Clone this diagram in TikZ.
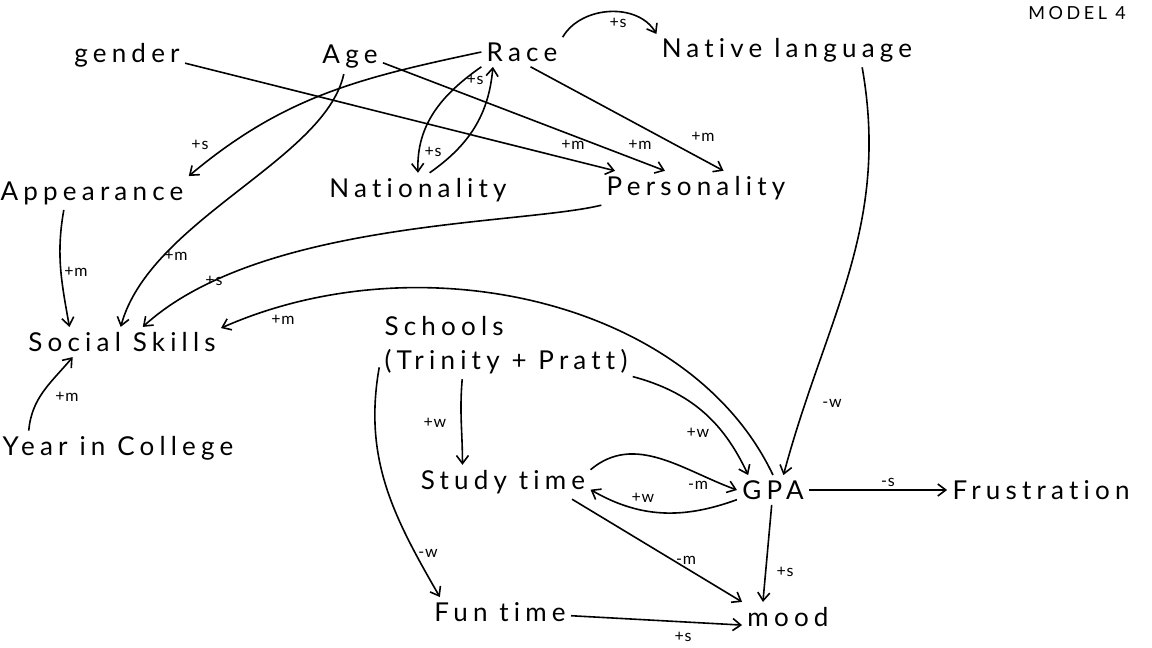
\documentclass[tikz,border=0pt]{standalone}
\usepackage{fontspec}
\setmainfont{Lato}[LetterSpace=20, Ligatures=NoCommon]
\newfontfamily\lblfont{Lato}[LetterSpace=5, Ligatures=NoCommon]
\usetikzlibrary{arrows.meta}

\begin{document}
\begin{tikzpicture}[x=0.5pt, y=-0.5pt,
  varnode/.style={inner sep=2.5pt, font=\fontsize{13}{17}\selectfont, align=left},
  lbl/.style={inner sep=0pt, font=\lblfont\fontsize{8}{9}\selectfont},
  arr/.style={-{Straight Barb[length=4pt, width=6pt]}, line width=0.8pt}
]
  \useasboundingbox (0,0) rectangle (1152,648);

  \node[varnode] (gender) at (127,55) {gender};
  \node[varnode] (age) at (350,57) {Age};
  \node[varnode] (race) at (522,52) {Race};
  \node[varnode] (natlang) at (787,50) {Native language};
  \node[varnode, font=\fontsize{9}{11}\selectfont] (model) at (1077,13) {MODEL 4};
  \node[varnode] (appear) at (92,193) {Appearance};
  \node[varnode] (nation) at (418,190) {Nationality};
  \node[varnode] (person) at (696,188) {Personality};
  \node[varnode] (social) at (122,342) {Social Skills};
  \node[varnode] (schools) at (506,345) {Schools\\(Trinity + Pratt)};
  \node[varnode] (year) at (118,448) {Year in College};
  \node[varnode] (study) at (503,482) {Study time};
  \node[varnode] (gpa) at (773,490) {GPA};
  \node[varnode] (frust) at (1041,490) {Frustration};
  \node[varnode] (fun) at (500,612) {Fun time};
  \node[varnode] (mood) at (788,617) {mood};

  \draw[arr] (gender.-8) -- (person.168);
  \draw[arr] (age.-10) -- (person.151);
  \draw[arr] (race.-60) -- (person.32);
  \draw[arr] (race.west) to[out=192, in=40] (appear.north east);
  \draw[arr] (race.south west) to[out=215, in=92] (nation.north);
  \draw[arr] (nation.56) to[out=35, in=-95] (race.207);
  \draw[arr] (race.north east) to[out=60, in=120] (natlang.173);
  \draw[arr] (natlang.-13) to[out=-80, in=75] (gpa.55);
  \draw[arr] (age.-110) .. controls (325,160) and (150,220) .. (social.95);
  \draw[arr] (person.south west) .. controls (520,225) and (260,220) .. (social.36);
  \draw[arr] (gpa.north) .. controls (690,300) and (420,240) .. (social.8);
  \draw[arr] (appear.211) to[out=260, in=100] (social.164);
  \draw[arr] (year.169) to[out=85, in=230] (social.197);
  \draw[arr] (schools.-14) to[out=-15, in=115] (gpa.149);
  \draw[arr] (schools.218) to[out=-95, in=90] (study.157);
  \draw[arr] (schools.190) to[out=260, in=120] (fun.166);
  \draw[arr] (study.8) to[out=40, in=160] (gpa.west);
  \draw[arr] (gpa.195) to[out=200, in=-30] (study.-5);
  \draw[arr] (study.-14) -- (mood.north west);
  \draw[arr] (gpa.-95) -- (mood.149);
  \draw[arr] (fun.-3) -- (mood.190);
  \draw[arr] (gpa.east) -- (frust.west);

  \node[lbl] (l-gp) at (573,145) {+m};
  \node[lbl] (l-ap) at (640,145) {+m};
  \node[lbl] (l-rp) at (703,137) {+m};
  \node[lbl] (l-ra) at (200,145) {+s};
  \node[lbl] (l-as) at (176,256) {+m};
  \node[lbl] (l-ps) at (214,281) {+s};
  \node[lbl] (l-gs) at (283,320) {+m};
  \node[lbl] (l-rn) at (433,152) {+s};
  \node[lbl] (l-nr) at (475,80) {+s};
  \node[lbl] (l-rl) at (618,23) {+s};
  \node[lbl] (l-lg) at (832,403) {-w};
  \node[lbl] (l-aps) at (76,272) {+m};
  \node[lbl] (l-ys) at (67,397) {+m};
  \node[lbl] (l-sg) at (698,433) {+w};
  \node[lbl] (l-sst) at (435,423) {+w};
  \node[lbl] (l-sf) at (428,553) {-w};
  \node[lbl] (l-stg) at (698,485) {-m};
  \node[lbl] (l-gst) at (643,498) {+w};
  \node[lbl] (l-stm) at (686,560) {-m};
  \node[lbl] (l-gm) at (785,572) {+s};
  \node[lbl] (l-fm) at (683,637) {+s};
  \node[lbl] (l-gf) at (888,482) {-s};
\end{tikzpicture}
\end{document}
